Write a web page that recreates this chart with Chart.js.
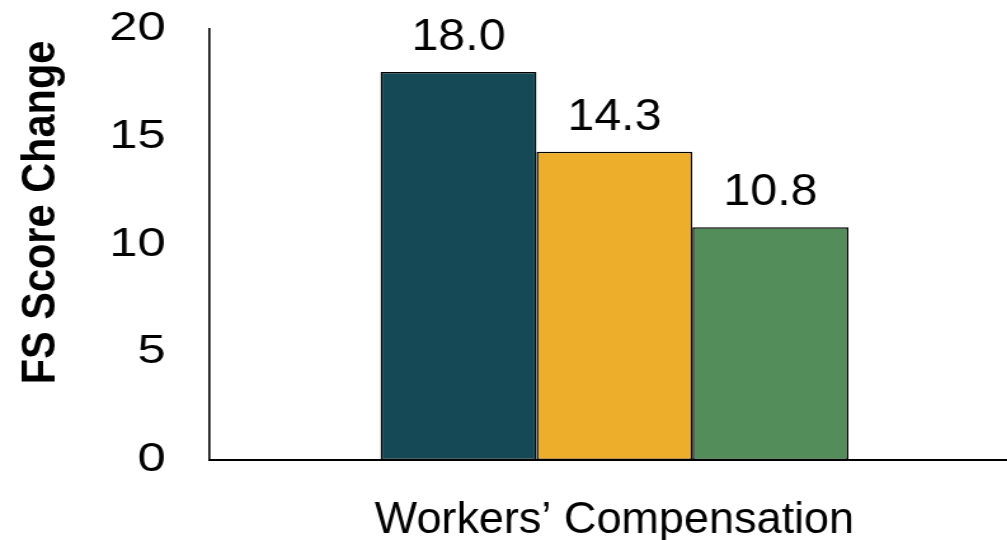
<!DOCTYPE html>
<html>
<head>
<meta charset="utf-8">
<script src="https://cdn.jsdelivr.net/npm/chart.js@4.4.1/dist/chart.umd.min.js"></script>
<style>
  html, body { margin: 0; padding: 0; background: #fff; overflow: hidden; }
  /* 图表按窄画布布局，再整体横向拉伸；右侧少量超出窗口 */
  #wrap {
    width: 803px;
    height: 540px;
    transform: scaleX(1.27);
    transform-origin: left top;
  }
  #score-chart { display: block; }
</style>
</head>
<body>
<div id="wrap"><canvas id="score-chart" width="803" height="540"></canvas></div>
<script>
// 数据
const categories = ['Workers’ Compensation'];
const seriesNames = ['Group 1', 'Group 2', 'Group 3'];
const seriesValues = [
    [18.0],
    [14.3],
    [10.8]
];
const yTickValues = [0, 5, 10, 15, 20];
const yAxisTitle = 'FS Score Change';

// 样式
const STRETCH = 1.27;
const seriesColors = ['#144955', '#ECAE2B', '#538E5A'];
const sansFamily = "'Liberation Sans', Arial, sans-serif";

/**
 * 自绘文字：柱顶数值、类目名、纵轴标题
 * 这些文字需要抵消画布的横向拉伸
 */
const annotatePlugin = {
    id: 'annotate',
    afterDraw(chart) {
        const ctx = chart.ctx;
        const area = chart.chartArea;

        // 柱顶数值
        ctx.save();
        ctx.fillStyle = '#000';
        ctx.font = `44px ${sansFamily}`;
        ctx.textAlign = 'center';
        ctx.textBaseline = 'alphabetic';
        chart.data.datasets.forEach((ds, i) => {
            const meta = chart.getDatasetMeta(i);
            meta.data.forEach((bar, j) => {
                ctx.save();
                ctx.translate(bar.x, bar.y - 22);
                ctx.scale(1.1 / STRETCH, 1);
                ctx.fillText(ds.data[j].toFixed(1), 0, 0);
                ctx.restore();
            });
        });
        ctx.restore();

        // 类目名
        const xScale = chart.scales.x;
        ctx.save();
        ctx.fillStyle = '#000';
        ctx.font = `45px ${sansFamily}`;
        ctx.textAlign = 'center';
        ctx.textBaseline = 'alphabetic';
        categories.forEach((cat, i) => {
            ctx.save();
            ctx.translate(xScale.getPixelForTick(i), area.bottom + 73);
            ctx.scale(1 / STRETCH, 1);
            ctx.fillText(cat, 0, 0);
            ctx.restore();
        });
        ctx.restore();

        // 纵轴标题（竖排）
        ctx.save();
        ctx.translate(43, (area.top + area.bottom) / 2 - 32);
        ctx.scale(1.107 / STRETCH, 1);
        ctx.rotate(-Math.PI / 2);
        ctx.font = `bold 41.5px ${sansFamily}`;
        ctx.fillStyle = '#000';
        ctx.textAlign = 'center';
        ctx.textBaseline = 'alphabetic';
        ctx.fillText(yAxisTitle, 0, 0);
        ctx.restore();
    }
};

const chart = new Chart(document.getElementById('score-chart'), {
    type: 'bar',
    data: {
        labels: categories,
        datasets: seriesValues.map((vals, i) => ({
            label: seriesNames[i],
            data: vals,
            backgroundColor: seriesColors[i],
            borderColor: '#000',
            borderWidth: 1.5,
            borderSkipped: false,
            categoryPercentage: 0.577,
            barPercentage: 1.0
        }))
    },
    options: {
        responsive: false,
        animation: false,
        devicePixelRatio: 1,
        layout: {
            padding: { top: 29, left: 0, right: 0, bottom: 0 }
        },
        plugins: {
            legend: { display: false },
            tooltip: { enabled: false }
        },
        scales: {
            x: {
                grid: { display: false, drawTicks: false, tickLength: 0 },
                border: { display: true, color: '#000', width: 2 },
                ticks: { display: false },
                afterFit(scale) {
                    scale.height = 80;
                    scale.paddingLeft = 0;
                    scale.paddingRight = 0;
                }
            },
            y: {
                min: 0,
                max: 20,
                afterBuildTicks(scale) {
                    scale.ticks = yTickValues.map(v => ({ value: v }));
                },
                grid: { display: false, drawTicks: false, tickLength: 0 },
                border: { display: true, color: '#000', width: 1.6 },
                ticks: {
                    color: '#000',
                    padding: 34,
                    font: { family: sansFamily, size: 40 }
                },
                afterFit(scale) {
                    scale.width = 164.6;
                    scale.paddingTop = 0;
                    scale.paddingBottom = 0;
                }
            }
        }
    },
    plugins: [annotatePlugin]
});
</script>
</body>
</html>
